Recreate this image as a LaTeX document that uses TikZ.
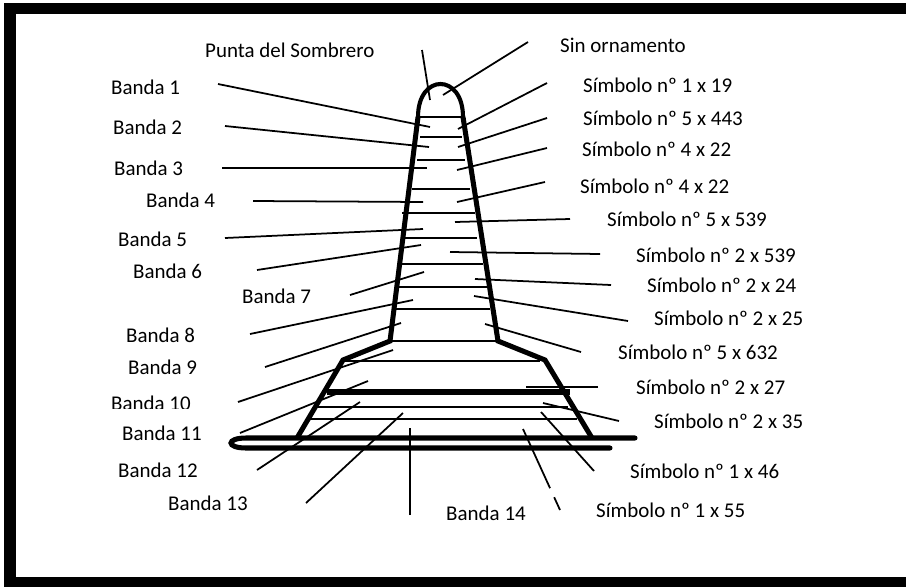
\documentclass[tikz,border=0pt]{standalone}
\usepackage{fontspec}
\setmainfont{Carlito}
\begin{document}
\begin{tikzpicture}[x=0.03cm,y=-0.03cm,
  lbl/.style={anchor=west,font=\fontsize{17.9}{21}\selectfont},
  leader/.style={line width=1.5pt},
  band/.style={line width=1.6pt},
  rim/.style={line width=4.3pt,line join=miter}]
\tikzstyle{every node}+=[inner sep=0pt]
\clip (0,0) rectangle (906,586);
\draw [black,line width=9.8pt] (10,8.5) rectangle (930,583);
% hat outline
\draw [black,rim] (297,438) -- (343,360) -- (390,341) -- (418,117);
\draw [black,rim] (463,117) -- (498,341) -- (545,360) -- (592,438);
\draw [black,line width=3.5pt] (418,117) .. controls (418,73) and (463,73) .. (463,117);
\draw [black,rim,line cap=round] (635,438) -- (246,438) .. controls (226,438) and (226,448) .. (246,448) -- (610,448);
% bands
\draw [black,band] (418,117) -- (462,117);
\draw [black,band] (420,137) -- (462,137);
\draw [black,band] (417,160) -- (465,160);
\draw [black,band] (412,189) -- (470,189);
\draw [black,band] (402,213) -- (475,213);
\draw [black,band] (405,238) -- (477,238);
\draw [black,band] (402,264) -- (483,264);
\draw [black,band] (398,287) -- (487,287);
\draw [black,band] (395,309) -- (490,309);
\draw [black,band] (390,341) -- (497,341);
\draw [black,band] (343,361) -- (540,361);
\draw [black,rim] (327,392) -- (570,392);
\draw [black,band] (318,407) -- (568,407);
\draw [black,band] (310,419) -- (577,419);
% labels
\node [lbl] (punta) at (205,50) {Punta del Sombrero};
\node [lbl] (sin) at (560,45) {Sin ornamento};
\node [lbl] (b1) at (111,87) {Banda 1};
\node [lbl] (b2) at (113,127) {Banda 2};
\node [lbl] (b3) at (114,168) {Banda 3};
\node [lbl] (b4) at (146,200) {Banda 4};
\node [lbl] (b5) at (118,239) {Banda 5};
\node [lbl] (b6) at (133,271) {Banda 6};
\node [lbl] (b7) at (242,296) {Banda 7};
\node [lbl] (b8) at (126,335) {Banda 8};
\node [lbl] (b9) at (128,367) {Banda 9};
\begin{scope}
\clip (100,385) rectangle (300,408);
\node [lbl] (b10) at (111,403) {Banda 10};
\end{scope}
\node [lbl] (b11) at (122,433) {Banda 11};
\node [lbl] (b12) at (118,470) {Banda 12};
\node [lbl] (b13) at (168,503) {Banda 13};
\node [lbl] (b14) at (446,513) {Banda 14};
\node [lbl] (s1) at (583,85) {Símbolo nº 1 x 19};
\node [lbl] (s2) at (583,118) {Símbolo nº 5 x 443};
\node [lbl] (s3) at (582,149) {Símbolo nº 4 x 22};
\node [lbl] (s4) at (580,186) {Símbolo nº 4 x 22};
\node [lbl] (s5) at (607,219) {Símbolo nº 5 x 539};
\node [lbl] (s6) at (636,255) {Símbolo nº 2 x 539};
\node [lbl] (s7) at (647,285) {Símbolo nº 2 x 24};
\node [lbl] (s8) at (654,318) {Símbolo nº 2 x 25};
\node [lbl] (s9) at (618,352) {Símbolo nº 5 x 632};
\node [lbl] (s10) at (636,387) {Símbolo nº 2 x 27};
\node [lbl] (s11) at (654,421) {Símbolo nº 2 x 35};
\node [lbl] (s12) at (630,471) {Símbolo nº 1 x 46};
\node [lbl] (s13) at (596,510) {Símbolo nº 1 x 55};
% leader ends
\coordinate (punta-o) at (422,50);  \coordinate (punta-i) at (430,100);
\coordinate (sin-o) at (528,42);    \coordinate (sin-i) at (443,95);
\coordinate (b1-o) at (218,84);     \coordinate (b1-i) at (430,127);
\coordinate (b2-o) at (225,126);    \coordinate (b2-i) at (429,147);
\coordinate (b3-o) at (222,168);    \coordinate (b3-i) at (427,168);
\coordinate (b4-o) at (253,201);    \coordinate (b4-i) at (423,202);
\coordinate (b5-o) at (225,238);    \coordinate (b5-i) at (423,229);
\coordinate (b6-o) at (257,270);    \coordinate (b6-i) at (421,245);
\coordinate (b7-o) at (350,295);    \coordinate (b7-i) at (424,272);
\coordinate (b8-o) at (250,334);    \coordinate (b8-i) at (413,300);
\coordinate (b9-o) at (265,367);    \coordinate (b9-i) at (401,323);
\coordinate (b10-o) at (238,402);   \coordinate (b10-i) at (393,350);
\coordinate (b11-o) at (240,433);   \coordinate (b11-i) at (368,381);
\coordinate (b12-o) at (257,470);   \coordinate (b12-i) at (360,402);
\coordinate (b13-o) at (306,503);   \coordinate (b13-i) at (403,413);
\coordinate (b14-o) at (410,515);   \coordinate (b14-i) at (410,428);
\coordinate (s1-o) at (547,83);     \coordinate (s1-i) at (458,129);
\coordinate (s2-o) at (547,118);    \coordinate (s2-i) at (458,147);
\coordinate (s3-o) at (547,148);    \coordinate (s3-i) at (457,170);
\coordinate (s4-o) at (545,182);    \coordinate (s4-i) at (457,202);
\coordinate (s5-o) at (570,219);    \coordinate (s5-i) at (455,222);
\coordinate (s6-o) at (600,254);    \coordinate (s6-i) at (450,252);
\coordinate (s7-o) at (611,285);    \coordinate (s7-i) at (475,279);
\coordinate (s8-o) at (628,321);    \coordinate (s8-i) at (474,296);
\coordinate (s9-o) at (581,352);    \coordinate (s9-i) at (485,324);
\coordinate (s10-o) at (598,387);   \coordinate (s10-i) at (526,387);
\coordinate (s11-o) at (619,421);   \coordinate (s11-i) at (543,403);
\coordinate (s12-o) at (594,471);   \coordinate (s12-i) at (541,412);
\coordinate (s13-o) at (560,510);   \coordinate (s13-i) at (523,429);
% leaders
\draw [black,leader] (punta-o) -- (punta-i);
\draw [black,leader] (sin-o) -- (sin-i);
\draw [black,leader] (b1-o) -- (b1-i);
\draw [black,leader] (b2-o) -- (b2-i);
\draw [black,leader] (b3-o) -- (b3-i);
\draw [black,leader] (b4-o) -- (b4-i);
\draw [black,leader] (b5-o) -- (b5-i);
\draw [black,leader] (b6-o) -- (b6-i);
\draw [black,leader] (b7-o) -- (b7-i);
\draw [black,leader] (b8-o) -- (b8-i);
\draw [black,leader] (b9-o) -- (b9-i);
\draw [black,leader] (b10-o) -- (b10-i);
\draw [black,leader] (b11-o) -- (b11-i);
\draw [black,leader] (b12-o) -- (b12-i);
\draw [black,leader] (b13-o) -- (b13-i);
\draw [black,leader] (b14-o) -- (b14-i);
\draw [black,leader] (s1-o) -- (s1-i);
\draw [black,leader] (s2-o) -- (s2-i);
\draw [black,leader] (s3-o) -- (s3-i);
\draw [black,leader] (s4-o) -- (s4-i);
\draw [black,leader] (s5-o) -- (s5-i);
\draw [black,leader] (s6-o) -- (s6-i);
\draw [black,leader] (s7-o) -- (s7-i);
\draw [black,leader] (s8-o) -- (s8-i);
\draw [black,leader] (s9-o) -- (s9-i);
\draw [black,leader] (s10-o) -- (s10-i);
\draw [black,leader] (s11-o) -- (s11-i);
\draw [black,leader] (s12-o) -- (s12-i);
\draw [black,leader,dash pattern=on 0.42cm off 0.3cm on 3cm off 1cm] (s13-o) -- (s13-i);
\end{tikzpicture}
\end{document}
